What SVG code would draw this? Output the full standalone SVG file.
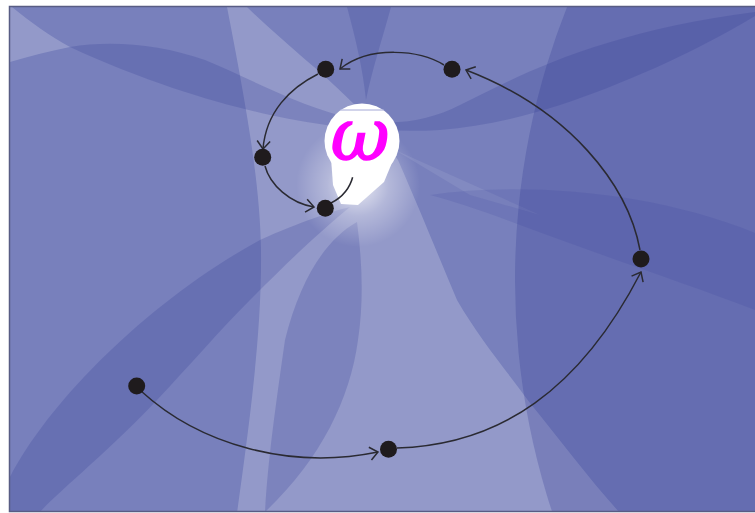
<svg xmlns="http://www.w3.org/2000/svg" width="755" height="513" viewBox="0 0 755 513">
<style>
.lt{fill:#ffffff;fill-opacity:0.2}
.dk{fill:#2c3590;fill-opacity:0.22}
.edge{fill:none;stroke:#2a2a32;stroke-width:1.5}
.dot{fill:#1f1b1d}
.om{font-family:"DejaVu Serif",serif;font-style:italic;font-size:72px;fill:#ff00ff;stroke:#ff00ff;stroke-width:1.6;text-anchor:middle}
</style>
<defs>
<clipPath id="frame"><rect x="9" y="7" width="746" height="505"/></clipPath>
<radialGradient id="glow" gradientUnits="userSpaceOnUse" cx="358" cy="185" r="62">
<stop offset="0" stop-color="#ffffff" stop-opacity="0.8"/>
<stop offset="0.5" stop-color="#ffffff" stop-opacity="0.3"/>
<stop offset="1" stop-color="#ffffff" stop-opacity="0"/>
</radialGradient>
<marker id="arr" markerUnits="userSpaceOnUse" markerWidth="12" markerHeight="16" viewBox="0 0 12 16" refX="10" refY="8" orient="auto">
<path d="M2,1.5 L10,8 L2,14.5" fill="none" stroke="#2a2a32" stroke-width="1.5"/>
</marker>
</defs>
<g id="background" clip-path="url(#frame)">
<rect x="9" y="7" width="746" height="505" fill="#7880bc"/>
<path class="lt" d="M10,7 L12,7 C30,22 50,36 70,47 C50,51 30,56 10,62 Z"/>
<path class="lt" d="M227,7 L247,7 C262,22 283,40 300,55 C330,80 350,100 365,115 L398,160 C420,210 440,260 457,300 C480,340 510,375 530,403 C560,440 590,480 620,513 L237,513 C250,420 262,330 261,250 C260,180 245,100 227,7 Z"/>
<path class="lt" style="fill-opacity:0.08" d="M395,150 L540,215 L470,195 Z"/>
<path class="dk" d="M70,47 C110,40 160,44 205,60 C250,78 300,108 360,120 C400,126 430,120 460,105 C520,75 600,32 755,12 L755,16 C690,55 620,85 560,105 C520,118 480,127 440,130 C390,133 330,128 270,115 C220,104 150,84 70,47 Z"/>
<path class="dk" d="M347,7 L391,7 C382,40 372,70 366,100 C363,70 356,40 347,7 Z"/>
<circle class="dk" cx="1257" cy="280" r="742" style="fill-opacity:0.25"/>
<path class="dk" d="M265,512 C268,460 275,410 285,340 C300,280 325,240 357,222 C362,260 364,300 358,340 C350,400 320,460 265,512 Z"/>
<path class="dk" d="M10,477 C50,400 150,300 260,240 C300,222 330,212 350,207 C310,240 280,270 250,300 C220,330 190,365 157,400 C110,450 60,490 40,512 L10,512 Z"/>
<path class="dk" style="fill-opacity:0.12" d="M430,195 C520,182 650,190 755,233 L755,310 C690,285 600,255 520,225 C480,210 450,200 430,195 Z"/>
<circle cx="358" cy="185" r="62" fill="url(#glow)"/>
<path fill="#ffffff" d="M331,158 L394,158 L384,182 L358,205 L341,204 L333,185 Z"/>
</g>
<rect x="9.5" y="6.5" width="748" height="505" fill="none" stroke="#585c84" stroke-width="1.5"/>
<g id="connectors">
<path class="edge" marker-end="url(#arr)" d="M141,391 C200,445 290,470 378,452"/>
<path class="edge" marker-end="url(#arr)" d="M397,448 C500,445 580,390 641,272"/>
<path class="edge" marker-end="url(#arr)" d="M640,250 C628,185 570,110 466,70"/>
<path class="edge" marker-end="url(#arr)" d="M444,65 C420,50 370,45 340,69"/>
<path class="edge" marker-end="url(#arr)" d="M318,74 C290,88 266,112 263,149"/>
<path class="edge" marker-end="url(#arr)" d="M265,166 C270,185 290,203 314,207"/>
<path class="edge" d="M331,203 C343,197 350,188 353,176"/>
</g>
<g id="node-omega">
<circle cx="362" cy="141" r="37.5" fill="#ffffff"/>
<line x1="340" y1="110" x2="384" y2="110" stroke="#a4a8d6" stroke-width="1"/>
<text class="om" x="360" y="160">ω</text>
</g>
<g id="node-a"><circle class="dot" cx="136.7" cy="386" r="8.5"/></g>
<g id="node-b"><circle class="dot" cx="388.5" cy="449.3" r="8.5"/></g>
<g id="node-c"><circle class="dot" cx="641" cy="259" r="8.5"/></g>
<g id="node-d"><circle class="dot" cx="452" cy="69.3" r="8.5"/></g>
<g id="node-e"><circle class="dot" cx="325.7" cy="69.3" r="8.5"/></g>
<g id="node-f"><circle class="dot" cx="262.7" cy="157.3" r="8.5"/></g>
<g id="node-g"><circle class="dot" cx="325.3" cy="208.3" r="8.5"/></g>
</svg>
